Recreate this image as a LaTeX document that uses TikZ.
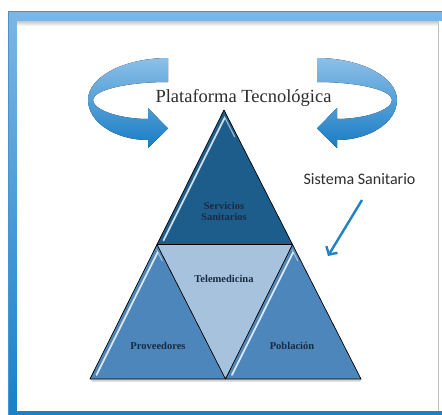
\documentclass[tikz,border=0pt]{standalone}
\usepackage{fontspec}
\setmainfont{Liberation Serif}
\newfontfamily\calfont{Carlito}
\usetikzlibrary{arrows.meta,calc}
\definecolor{frametop}{HTML}{7DB6E3}
\definecolor{framebot}{HTML}{1580C8}
\definecolor{framedark}{HTML}{4A93D2}
\definecolor{arrtop}{HTML}{8CC0E8}
\definecolor{arrbot}{HTML}{177CC4}
\definecolor{tritop}{HTML}{1D5D8C}
\definecolor{trilow}{HTML}{4C86BA}
\definecolor{triinv}{HTML}{A7C2DD}
\definecolor{labcol}{HTML}{1A2A42}
\definecolor{titlecol}{HTML}{2E2E2E}
\definecolor{pointer}{HTML}{1F82C8}
\tikzset{
  triedge/.style={draw=black, line width=0.7pt, line join=round},
  gleam/.style={white, line width=1.8pt, opacity=0.8, line cap=round},
  lab/.style={font=\bfseries\fontsize{10.5}{12}\selectfont, text=labcol, align=center},
  ribbon/.style={top color=arrtop, bottom color=arrbot},
}
\begin{document}
\begin{tikzpicture}[x=1pt,y=-1pt]
\useasboundingbox (0,0) rectangle (442,415);

% page frame
\fill[top color=frametop, bottom color=framebot] (8,11) rectangle (452,425);
\fill[white] (17,21) rectangle (452,411);
\fill[top color=black!22, bottom color=white] (17,21) rectangle (438,26);
\draw[black!25, line width=0.8pt] (438.6,21) -- (438.6,411);
\draw[framedark, line width=0.8pt] (8.4,425) -- (8.4,11.4) -- (452,11.4);

% circular arrow, left
\fill[ribbon] (168,58) .. controls (124,58) and (88,77) .. (88,100)
  .. controls (88,122) and (115,140) .. (148,140)
  -- (148,148) -- (168,128.5) -- (148,108) -- (148,119)
  .. controls (120,119) and (93,110) .. (93,100)
  .. controls (93,90) and (127,82) .. (168,82) -- cycle;
% circular arrow, right (mirrored)
\begin{scope}[xshift=485pt, xscale=-1]
\fill[ribbon] (168,58) .. controls (124,58) and (88,77) .. (88,100)
  .. controls (88,122) and (115,140) .. (148,140)
  -- (148,148) -- (168,128.5) -- (148,108) -- (148,119)
  .. controls (120,119) and (93,110) .. (93,100)
  .. controls (93,90) and (127,82) .. (168,82) -- cycle;
\end{scope}

% pyramid corners
\coordinate (apex) at (224,110);
\coordinate (bl) at (90,379);
\coordinate (br) at (361,379);
\coordinate (ml) at ($(apex)!0.5!(bl)$);
\coordinate (mr) at ($(apex)!0.5!(br)$);
\coordinate (bm) at ($(bl)!0.5!(br)$);

% soft shadow under the base
\fill[black!35, opacity=0.5] ($(bl)+(1,0)$) -- ($(br)+(1,0)$) -- ($(br)+(-1,2.5)$) -- ($(bl)+(2,2.5)$) -- cycle;

% the four triangles
\fill[tritop] (apex) -- (ml) -- (mr) -- cycle;
\fill[triinv] (ml) -- (mr) -- (bm) -- cycle;
\fill[trilow] (ml) -- (bl) -- (bm) -- cycle;
\fill[trilow] (mr) -- (bm) -- (br) -- cycle;

% bevel highlights
\draw[gleam] ($(apex)!0.06!(ml)+(4.5,0)$) -- ($(apex)!0.97!(ml)+(4.5,0)$);
\draw[gleam] ($(ml)!0.06!(bl)+(4.5,0)$) -- ($(ml)!0.97!(bl)+(4.5,0)$);
\draw[gleam] ($(mr)!0.06!(bm)+(4.5,0)$) -- ($(mr)!0.97!(bm)+(4.5,0)$);
\draw[white, opacity=0.55, line width=1.2pt, line cap=round] ($(apex)!0.05!(mr)+(-3,0)$) -- ($(apex)!0.2!(mr)+(-3,0)$);
\draw[white, opacity=0.45, line width=1.2pt, line cap=round] ($(mr)!0.04!(br)+(-3,0)$) -- ($(mr)!0.12!(br)+(-3,0)$);
\draw[white, opacity=0.45, line width=1.2pt, line cap=round] ($(ml)!0.04!(bm)+(-3,0)$) -- ($(ml)!0.12!(bm)+(-3,0)$);

% outlines
\draw[triedge] (apex) -- (bl) -- (br) -- cycle;
\draw[triedge] (ml) -- (mr) -- (bm) -- cycle;

% labels
\node[lab] (serv) at (224,211.5) {Servicios\\[-1.5pt]Sanitarios};
\node[lab] (tele) at (224,279) {Telemedicina};
\node[lab] (prov) at (158,346) {Proveedores};
\node[lab] (pobl) at (292,346) {Población};

\node[font=\fontsize{18.5}{21}\selectfont, text=titlecol] (plat) at (243.5,98) {Plataforma Tecnológica};
\node[font=\calfont\fontsize{16}{19}\selectfont, text=titlecol] (sist) at (359.5,179) {Sistema Sanitario};

% pointer toward the pyramid
\coordinate (pa) at (362,200);
\coordinate (pb) at (328,256);
\draw[pointer, line width=2.4pt, -{Straight Barb[length=6pt, width=13pt]}] (pa) -- (pb);
\end{tikzpicture}
\end{document}
